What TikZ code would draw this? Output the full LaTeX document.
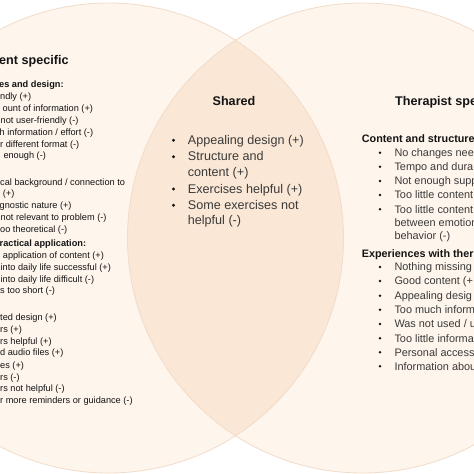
\documentclass[tikz,border=0pt]{standalone}
\usepackage{fontspec}
\setmainfont{Liberation Sans}
\definecolor{circfill}{HTML}{FEF5EC}
\definecolor{overfill}{HTML}{FAE7D6}
\definecolor{circedge}{HTML}{F2DCC8}
\definecolor{txtdark}{HTML}{141414}
\definecolor{txtgrey}{HTML}{3A3A3A}
\tikzset{
  lefttxt/.style={anchor=base west, inner sep=0pt, font=\fontsize{9.2}{11}\selectfont, text=txtdark},
  lefthead/.style={anchor=base west, inner sep=0pt, font=\fontsize{9.2}{11}\selectfont\bfseries, text=txtdark},
  titletxt/.style={anchor=base west, inner sep=0pt, font=\fontsize{12.6}{15}\selectfont\bfseries, text=txtdark},
  sharedtxt/.style={anchor=base west, inner sep=0pt, font=\fontsize{12.6}{15}\selectfont, text=txtgrey},
  righttxt/.style={anchor=base west, inner sep=0pt, font=\fontsize{10.9}{13}\selectfont, text=txtgrey},
  righthead/.style={anchor=base west, inner sep=0pt, font=\fontsize{10.8}{13}\selectfont\bfseries, text=txtdark},
  bigdot/.style={circle, fill=txtdark, inner sep=0pt, minimum size=3.3pt},
  smalldot/.style={circle, fill=txtdark, inner sep=0pt, minimum size=2.8pt},
  ring/.style={draw=circedge, line width=0.8pt}
}
\begin{document}
\begin{tikzpicture}[x=1pt,y=-1pt]
\useasboundingbox (0,0) rectangle (474,474);
\clip (0,0) rectangle (474,474);
\fill[white] (0,0) rectangle (474,474);
\coordinate (cl) at (108.5,238);
\coordinate (cr) at (362.5,238);
\fill[circfill] (cl) circle[radius=235pt];
\fill[circfill] (cr) circle[radius=235pt];
\begin{scope}
  \clip (cl) circle[radius=235pt];
  \fill[overfill] (cr) circle[radius=235pt];
\end{scope}
\draw[ring] (cl) circle[radius=235pt];
\draw[ring] (cr) circle[radius=235pt];

% ---------- left: patient specific ----------
\node[titletxt] (ptitle) at (-1,64.3) {ent specific};
\node[lefthead] (lh1) at (-1,87.3) {es and design:};
\node[lefttxt] (l1) at (0,99.8) {ndly (+)};
\node[lefttxt] (l2) at (2.5,111.3) {ount of information (+)};
\node[lefttxt] (l3) at (0.5,123.2) {not user-friendly (-)};
\node[lefttxt] (l4) at (-0.5,135) {h information / effort (-)};
\node[lefttxt] (l5) at (0,147) {r different format (-)};
\node[lefttxt] (l6) at (3.3,158.7) {enough (-)};
\node[lefttxt] (l7) at (0,185) {cal background / connection to};
\node[lefttxt] (l8) at (2.7,196.3) {(+)};
\node[lefttxt] (l9) at (-0.5,208.3) {gnostic nature (+)};
\node[lefttxt] (l10) at (0.5,220.3) {not relevant to problem (-)};
\node[lefttxt] (l11) at (0,232) {oo theoretical (-)};
\node[lefthead] (lh2) at (-0.5,246.7) {ractical application:};
\node[lefttxt] (l12) at (2.7,258.7) {application of content (+)};
\node[lefttxt] (l13) at (0.5,270.3) {into daily life successful (+)};
\node[lefttxt] (l14) at (0.5,282.3) {into daily life difficult (-)};
\node[lefttxt] (l15) at (0,293.7) {s too short (-)};
\node[lefttxt] (l16) at (0,320.3) {ted design (+)};
\node[lefttxt] (l17) at (0,332.3) {rs (+)};
\node[lefttxt] (l18) at (0,344) {rs helpful (+)};
\node[lefttxt] (l19) at (0,355.7) {d audio files (+)};
\node[lefttxt] (l20) at (0,368) {es (+)};
\node[lefttxt] (l21) at (0,380) {rs (-)};
\node[lefttxt] (l22) at (0,391.3) {rs not helpful (-)};
\node[lefttxt] (l23) at (0,403) {r more reminders or guidance (-)};

% ---------- shared ----------
\node[titletxt, anchor=base] (stitle) at (234,105.2) {Shared};
\node[sharedtxt] (s1) at (187.7,144.3) {Appealing design (+)};
\node[sharedtxt] (s2) at (187.7,160.8) {Structure and};
\node[sharedtxt] (s2b) at (187.7,176.6) {content (+)};
\node[sharedtxt] (s3) at (187.7,193) {Exercises helpful (+)};
\node[sharedtxt] (s4) at (187.7,209.3) {Some exercises not};
\node[sharedtxt] (s4b) at (187.7,224.8) {helpful (-)};
\node[bigdot] (sb1) at (173.5,140.3) {};
\node[bigdot] (sb2) at (173.5,156.8) {};
\node[bigdot] (sb3) at (173.5,189) {};
\node[bigdot] (sb4) at (173.5,205.3) {};

% ---------- right: therapist specific ----------
\node[titletxt] (ttitle) at (395,105.2) {Therapist spe};
\node[righthead] (rh1) at (361.7,142.2) {Content and structure};
\node[righttxt] (r1) at (394.3,156.5) {No changes nee};
\node[righttxt] (r2) at (394.3,170.5) {Tempo and dura};
\node[righttxt] (r3) at (394.3,184.8) {Not enough supp};
\node[righttxt] (r4) at (394.3,198.8) {Too little content};
\node[righttxt] (r5) at (394.3,213.1) {Too little content};
\node[righttxt] (r5b) at (394.3,226.3) {between emotion};
\node[righttxt] (r5c) at (394.3,239.8) {behavior (-)};
\node[righthead] (rh2) at (361.7,257.2) {Experiences with ther};
\node[righttxt] (r6) at (394.3,270.8) {Nothing missing};
\node[righttxt] (r7) at (394.3,284.8) {Good content (+};
\node[righttxt] (r8) at (394.3,299.3) {Appealing desig};
\node[righttxt] (r9) at (394.3,313.4) {Too much inform};
\node[righttxt] (r10) at (394.3,327.8) {Was not used / u};
\node[righttxt] (r11) at (394.3,342) {Too little informa};
\node[righttxt] (r12) at (394.3,356) {Personal access};
\node[righttxt] (r13) at (394.3,370) {Information abou};
\foreach \n/\yy in {rb1/152.7, rb2/166.7, rb3/181, rb4/195, rb5/209.3,
                    rb6/267, rb7/281, rb8/295.7, rb9/309.7, rb10/324, rb11/338.3, rb12/352.3, rb13/366.3}
  \node[smalldot] (\n) at (380,\yy) {};
\end{tikzpicture}
\end{document}
